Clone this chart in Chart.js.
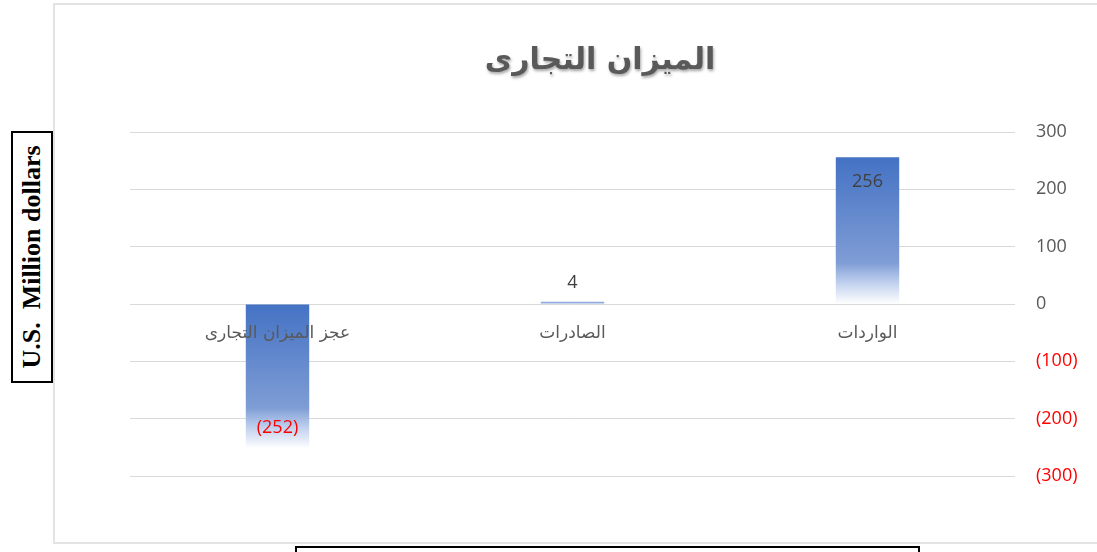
<!DOCTYPE html>
<html>
<head>
<meta charset="utf-8">
<script src="https://cdn.jsdelivr.net/npm/chart.js@4"></script>
<style>
  html, body { margin: 0; padding: 0; background: #fff; }
  body { width: 1097px; height: 552px; position: relative; overflow: hidden; }
  #frame { position: absolute; left: 53px; top: 3px; width: 1100px; height: 541px; border: 2px solid #e3e3e3; box-sizing: border-box; }
  #wrap { position: absolute; left: 0; top: 0; width: 1097px; height: 552px; }
  #yname { position: absolute; left: 11px; top: 131px; width: 42px; height: 252px; border: 2px solid #000; box-sizing: border-box; background: #fff; }
  #yname span { position: absolute; left: 50%; top: 50%; transform: translate(-50%, -50%) rotate(-90deg); white-space: pre; font: bold 26px "Liberation Serif", "Times New Roman", serif; color: #000; }
  #xname { position: absolute; left: 295px; top: 546px; width: 625px; height: 30px; border: 2px solid #000; box-sizing: border-box; background: #fff; }
</style>
</head>
<body>
<div id="frame"></div>
<div id="wrap"><canvas id="c"></canvas></div>
<div id="yname"><span>U.S.  Million dollars</span></div>
<div id="xname"></div>
<script>
const TITLE = "الميزان التجارى";
const categories = ["الواردات", "الصادرات", "عجز الميزان التجارى"];
const values = [256, 4, -252];
const yTicks = [300, 200, 100, 0, -100, -200, -300];

const GRAY = "#595959";
const RED = "#ff0000";

function fmt(v) {
  return v < 0 ? "(" + Math.abs(v) + ")" : String(v);
}

function barFill(ctx) {
  const chart = ctx.chart;
  const y = chart.scales.y;
  if (!y || !chart.chartArea) return "#4472c4";
  const v = ctx.raw;
  const p1 = y.getPixelForValue(v);
  const p0 = y.getPixelForValue(0);
  const top = Math.min(p0, p1);
  const bottom = Math.max(p0, p1);
  if (bottom - top < 4) return "#8faadc";
  const g = chart.ctx.createLinearGradient(0, top, 0, bottom);
  g.addColorStop(0, "#4472c4");
  g.addColorStop(0.72, "#7f9dd5");
  g.addColorStop(0.84, "#b9cbec");
  g.addColorStop(1, "#ffffff");
  return g;
}

const titlePlugin = {
  id: "arTitle",
  afterDraw(chart) {
    const c = chart.ctx;
    c.save();
    c.font = 'bold 30px "DejaVu Sans", sans-serif';
    c.fillStyle = GRAY;
    c.textAlign = "center";
    c.textBaseline = "middle";
    c.shadowColor = "rgba(0,0,0,0.35)";
    c.shadowOffsetX = 1;
    c.shadowOffsetY = 2;
    c.shadowBlur = 3;
    c.fillText(TITLE, 600, 61);
    c.restore();
  }
};

const valueLabels = {
  id: "valueLabels",
  afterDatasetsDraw(chart) {
    const c = chart.ctx;
    const meta = chart.getDatasetMeta(0);
    c.save();
    c.font = '18px "Open Sans", sans-serif';
    c.textAlign = "center";
    c.textBaseline = "middle";
    meta.data.forEach((el, i) => {
      const v = values[i];
      const len = Math.abs(el.base - el.y);
      let ty;
      if (len < 30) ty = Math.min(el.y, el.base) - 19;
      else if (v >= 0) ty = el.y + 25;
      else ty = el.y - 21;
      c.fillStyle = v < 0 ? RED : "#404040";
      c.fillText(fmt(v), el.x, ty);
    });
    c.restore();
  }
};

new Chart(document.getElementById("c"), {
  type: "bar",
  data: {
    labels: categories,
    datasets: [{
      data: values,
      backgroundColor: barFill,
      borderWidth: 0,
      barPercentage: 0.215,
      categoryPercentage: 1
    }]
  },
  options: {
    responsive: true,
    maintainAspectRatio: false,
    animation: false,
    layout: { padding: { left: 130, top: 132, right: 0, bottom: 76 } },
    plugins: {
      legend: { display: false },
      title: { display: false },
      tooltip: { enabled: false }
    },
    scales: {
      x: {
        type: "category",
        reverse: true,
        position: { y: 0 },
        grid: { display: false },
        border: { display: false },
        ticks: {
          z: 1,
          color: GRAY,
          padding: 11,
          maxRotation: 0,
          font: { family: '"DejaVu Sans", sans-serif', size: 17 }
        }
      },
      y: {
        position: "right",
        min: -300,
        max: 300,
        afterBuildTicks(scale) {
          scale.ticks = yTicks.map(v => ({ value: v }));
        },
        afterFit(scale) {
          scale.width = 82;
        },
        grid: { color: "#d9d9d9", lineWidth: 1, drawTicks: false },
        border: { display: false },
        ticks: {
          padding: 21,
          callback: v => fmt(v),
          color: ctx => (ctx.tick && ctx.tick.value < 0 ? RED : GRAY),
          font: { family: '"Open Sans", sans-serif', size: 18 }
        }
      }
    }
  },
  plugins: [titlePlugin, valueLabels]
});
</script>
</body>
</html>
